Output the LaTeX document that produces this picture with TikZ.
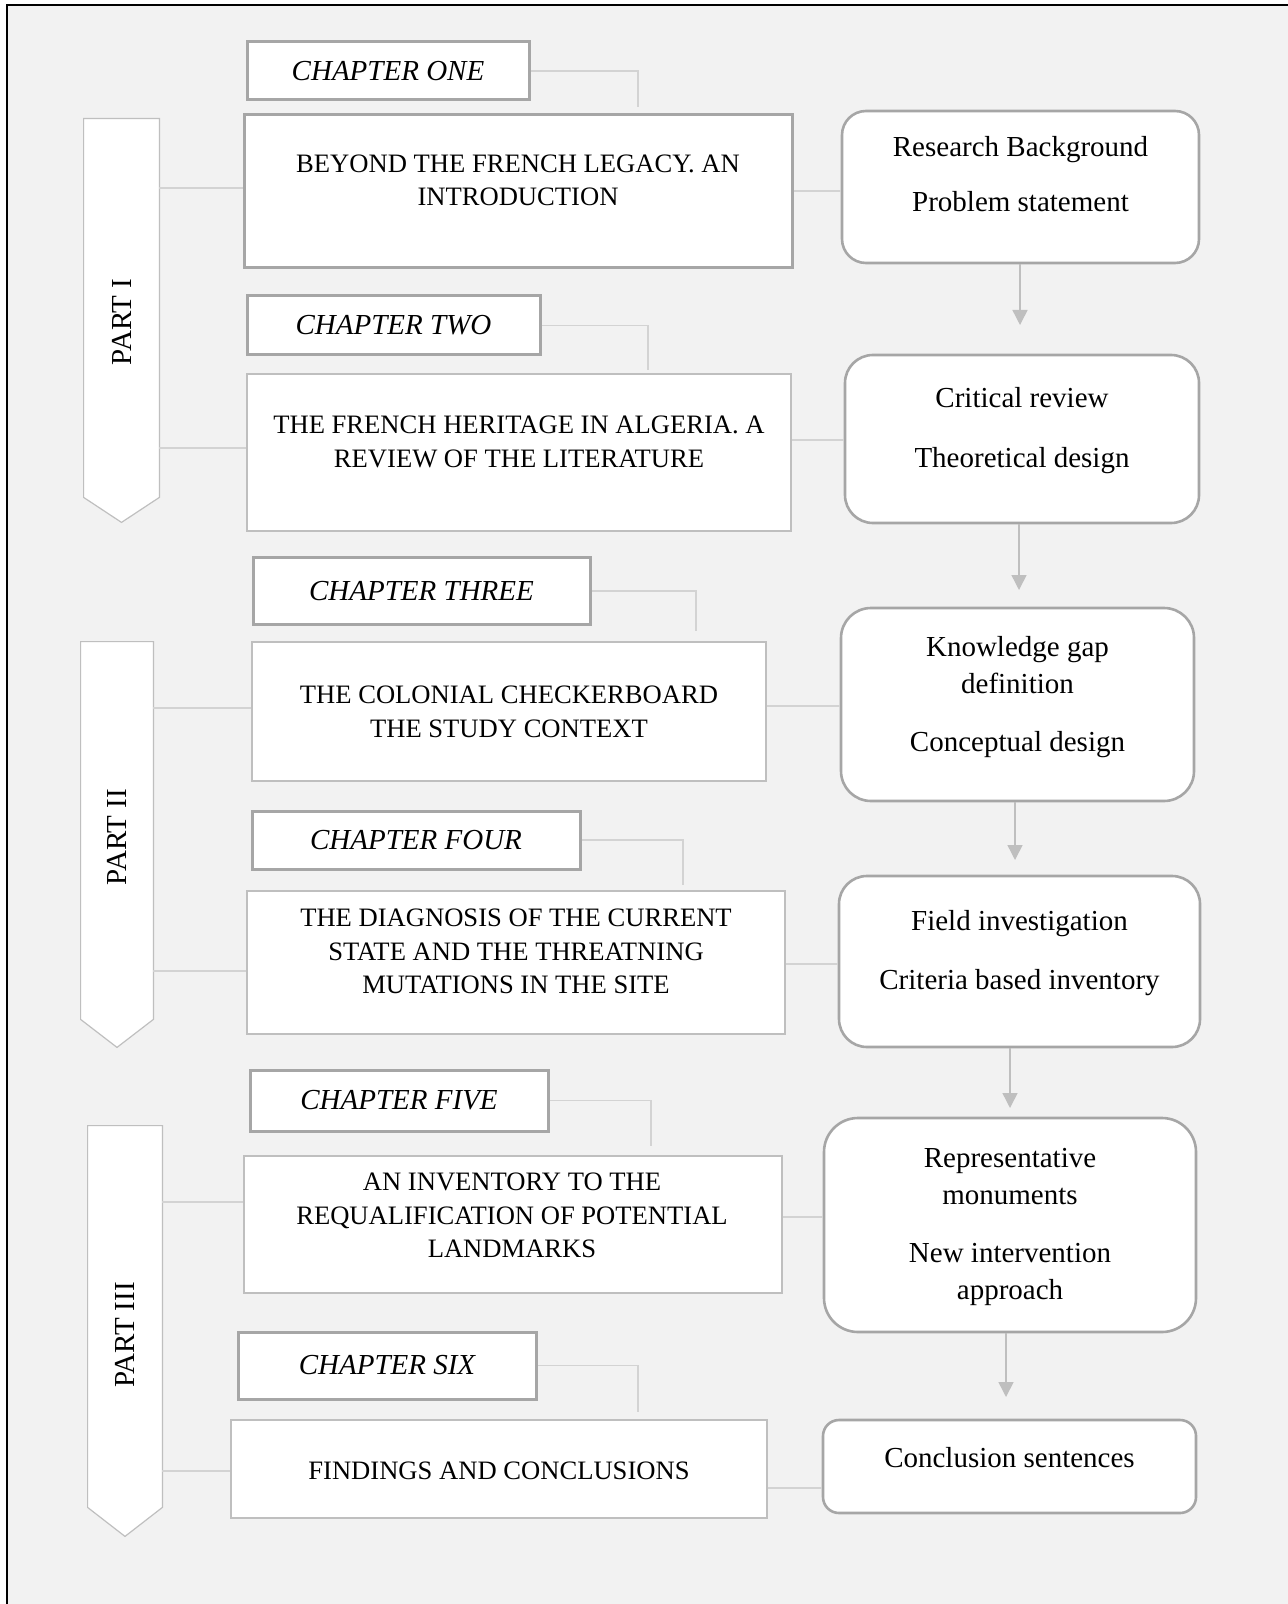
\documentclass[tikz,border=0pt]{standalone}
\usepackage{xcolor}
\usepackage{tikz}
\usepackage{fontspec}
\setmainfont{Liberation Serif}
\usetikzlibrary{positioning,calc,arrows.meta}

\definecolor{bggray}{HTML}{F2F2F2}
\definecolor{boxgray}{HTML}{A6A6A6}
\definecolor{thingray}{HTML}{BFBFBF}
\definecolor{linkgray}{HTML}{D3D3D3}

\begin{document}
\begin{tikzpicture}[x=0.5pt, y=-0.5pt,
    chapbox/.style={draw=boxgray, line width=1.5pt, fill=white, inner sep=0pt,
        font=\fontsize{14.5}{17}\selectfont\itshape},
    mainbox/.style={draw=thingray, line width=0.75pt, fill=white, inner sep=0pt},
    maintext/.style={align=center, font=\fontsize{13.3}{16.8}\selectfont},
    roundbox/.style={draw=boxgray, line width=1.3pt, fill=white, inner sep=0pt},
    roundtext/.style={align=center, font=\fontsize{14.5}{18.5}\selectfont},
    partbox/.style={inner sep=0pt},
    partline/.style={draw=thingray, line width=0.6pt, fill=white},
    parttext/.style={rotate=90, font=\fontsize{14.5}{17}\selectfont},
    link/.style={draw=linkgray, line width=0.7pt},
    flow/.style={draw=thingray, line width=0.75pt, -{Triangle[width=7.5pt,length=7.5pt]}}]

    \useasboundingbox (0,0) rectangle (1288,1604);
    \fill[white] (0,0) rectangle (1288,1604);
    \fill[bggray] (7,5) rectangle (1288,1604);
    \draw[line width=0.9pt] (7,1604) -- (7,5) -- (1288,5);

    % parts
    \node[partbox, minimum width=37.5pt, minimum height=189pt] (p1) at (121.5,308) {};
    \node[partbox, minimum width=36pt, minimum height=188.5pt] (p2) at (117,830.5) {};
    \node[partbox, minimum width=37pt, minimum height=190.5pt] (p3) at (125,1316.5) {};
    \draw[partline] (p1.north west) -- (p1.north east) -- (p1.south east) -- ($(p1.south)+(0,25)$) -- (p1.south west) -- cycle;
    \draw[partline] (p2.north west) -- (p2.north east) -- (p2.south east) -- ($(p2.south)+(0,28)$) -- (p2.south west) -- cycle;
    \draw[partline] (p3.north west) -- (p3.north east) -- (p3.south east) -- ($(p3.south)+(0,29)$) -- (p3.south west) -- cycle;
    \node[parttext] (p1t) at (122,322) {PART I};
    \node[parttext] (p2t) at (117,837) {PART II};
    \node[parttext] (p3t) at (125,1335) {PART III};

    % chapters
    \node[chapbox, minimum width=141pt, minimum height=29pt] (ch1) at (388,71) {CHAPTER ONE};
    \node[chapbox, minimum width=146.5pt, minimum height=29.5pt] (ch2) at (393.5,325.5) {CHAPTER TWO};
    \node[chapbox, minimum width=168.5pt, minimum height=33.5pt] (ch3) at (421.5,591) {CHAPTER THREE};
    \node[chapbox, minimum width=164pt, minimum height=29pt] (ch4) at (416,840) {CHAPTER FOUR};
    \node[chapbox, minimum width=149pt, minimum height=30.5pt] (ch5) at (399,1100.5) {CHAPTER FIVE};
    \node[chapbox, minimum width=149pt, minimum height=33.5pt] (ch6) at (387,1365.5) {CHAPTER SIX};

    % chapter contents
    \node[mainbox, draw=boxgray, line width=1.5pt, minimum width=274pt, minimum height=76.5pt] (m1) at (518,191.5) {};
    \node[mainbox, minimum width=272pt, minimum height=78.5pt] (m2) at (519,452.5) {};
    \node[mainbox, minimum width=257pt, minimum height=69.5pt] (m3) at (509,711.5) {};
    \node[mainbox, minimum width=269pt, minimum height=71.5pt] (m4) at (516,962.5) {};
    \node[mainbox, minimum width=269pt, minimum height=68.5pt] (m5) at (513,1224.5) {};
    \node[mainbox, minimum width=268pt, minimum height=49pt] (m6) at (499,1469) {};
    \node[maintext] (m1t) at (518,180.5) {BEYOND THE FRENCH LEGACY. AN\\INTRODUCTION};
    \node[maintext] (m2t) at (519,442) {THE FRENCH HERITAGE IN ALGERIA. A\\REVIEW OF THE LITERATURE};
    \node[maintext] (m3t) at (509,712) {THE COLONIAL CHECKERBOARD\\THE STUDY CONTEXT};
    \node[maintext] (m4t) at (516,951.5) {THE DIAGNOSIS OF THE CURRENT\\STATE AND THE THREATNING\\MUTATIONS IN THE SITE};
    \node[maintext] (m5t) at (512,1215.5) {AN INVENTORY TO THE\\REQUALIFICATION OF POTENTIAL\\LANDMARKS};
    \node[maintext] (m6t) at (499,1471) {FINDINGS AND CONCLUSIONS};

    % methods
    \node[roundbox, rounded corners=12pt, minimum width=178.5pt, minimum height=76pt] (r1) at (1020.5,187) {};
    \node[roundbox, rounded corners=14pt, minimum width=177pt, minimum height=84pt] (r2) at (1022,439) {};
    \node[roundbox, rounded corners=15pt, minimum width=176.5pt, minimum height=96.5pt] (r3) at (1017.5,704.5) {};
    \node[roundbox, rounded corners=14pt, minimum width=180.5pt, minimum height=85.5pt] (r4) at (1019.5,961.5) {};
    \node[roundbox, rounded corners=17pt, minimum width=186pt, minimum height=107pt] (r5) at (1010,1225) {};
    \node[roundbox, rounded corners=8pt, minimum width=186.5pt, minimum height=46.5pt] (r6) at (1009.5,1466.5) {};
    \node[roundtext] (r1t) at (1020.5,174.5) {Research Background\\[9pt]Problem statement};
    \node[roundtext] (r2t) at (1022,430.5) {Critical review\\[11.5pt]Theoretical design};
    \node[roundtext] (r3t) at (1017.5,697) {Knowledge gap\\definition\\[10.5pt]Conceptual design};
    \node[roundtext] (r4t) at (1019.5,953.5) {Field investigation\\[11pt]Criteria based inventory};
    \node[roundtext] (r5t) at (1010,1226.5) {Representative\\monuments\\[10.5pt]New intervention\\approach};
    \node[roundtext] (r6t) at (1009.5,1458) {Conclusion sentences};

    \coordinate (c1) at (638,107);
    \coordinate (c2) at (648,370);
    \coordinate (c3) at (696,631);
    \coordinate (c4) at (683,885);
    \coordinate (c5) at (651,1146);
    \coordinate (c6) at (638,1412);
    \draw[link] (ch1.east) -| (c1);
    \draw[link] (ch2.east) -| (c2);
    \draw[link] (ch3.east) -| (c3);
    \draw[link] (ch4.east) -| (c4);
    \draw[link] (ch5.east) -| (c5);
    \draw[link] (ch6.east) -| (c6);

    \draw[link] (p1.east |- 0,188) -- (m1.west |- 0,188);
    \draw[link] (p1.east |- 0,448) -- (m2.west |- 0,448);
    \draw[link] (p2.east |- 0,708) -- (m3.west |- 0,708);
    \draw[link] (p2.east |- 0,971) -- (m4.west |- 0,971);
    \draw[link] (p3.east |- 0,1202) -- (m5.west |- 0,1202);
    \draw[link] (p3.east |- 0,1471) -- (m6.west |- 0,1471);

    \draw[link] (m1.east |- 0,191) -- (r1.west |- 0,191);
    \draw[link] (m2.east |- 0,440) -- (r2.west |- 0,440);
    \draw[link] (m3.east |- 0,706) -- (r3.west |- 0,706);
    \draw[link] (m4.east |- 0,964) -- (r4.west |- 0,964);
    \draw[link] (m5.east |- 0,1217) -- (r5.west |- 0,1217);
    \draw[link] (m6.east |- 0,1488) -- (r6.west |- 0,1488);

    \draw[flow] (r1.south -| 1020,0) -- (1020,325);
    \draw[flow] (r2.south -| 1019,0) -- (1019,590);
    \draw[flow] (r3.south -| 1015,0) -- (1015,860);
    \draw[flow] (r4.south -| 1010,0) -- (1010,1108);
    \draw[flow] (r5.south -| 1006,0) -- (1006,1397);
\end{tikzpicture}
\end{document}
